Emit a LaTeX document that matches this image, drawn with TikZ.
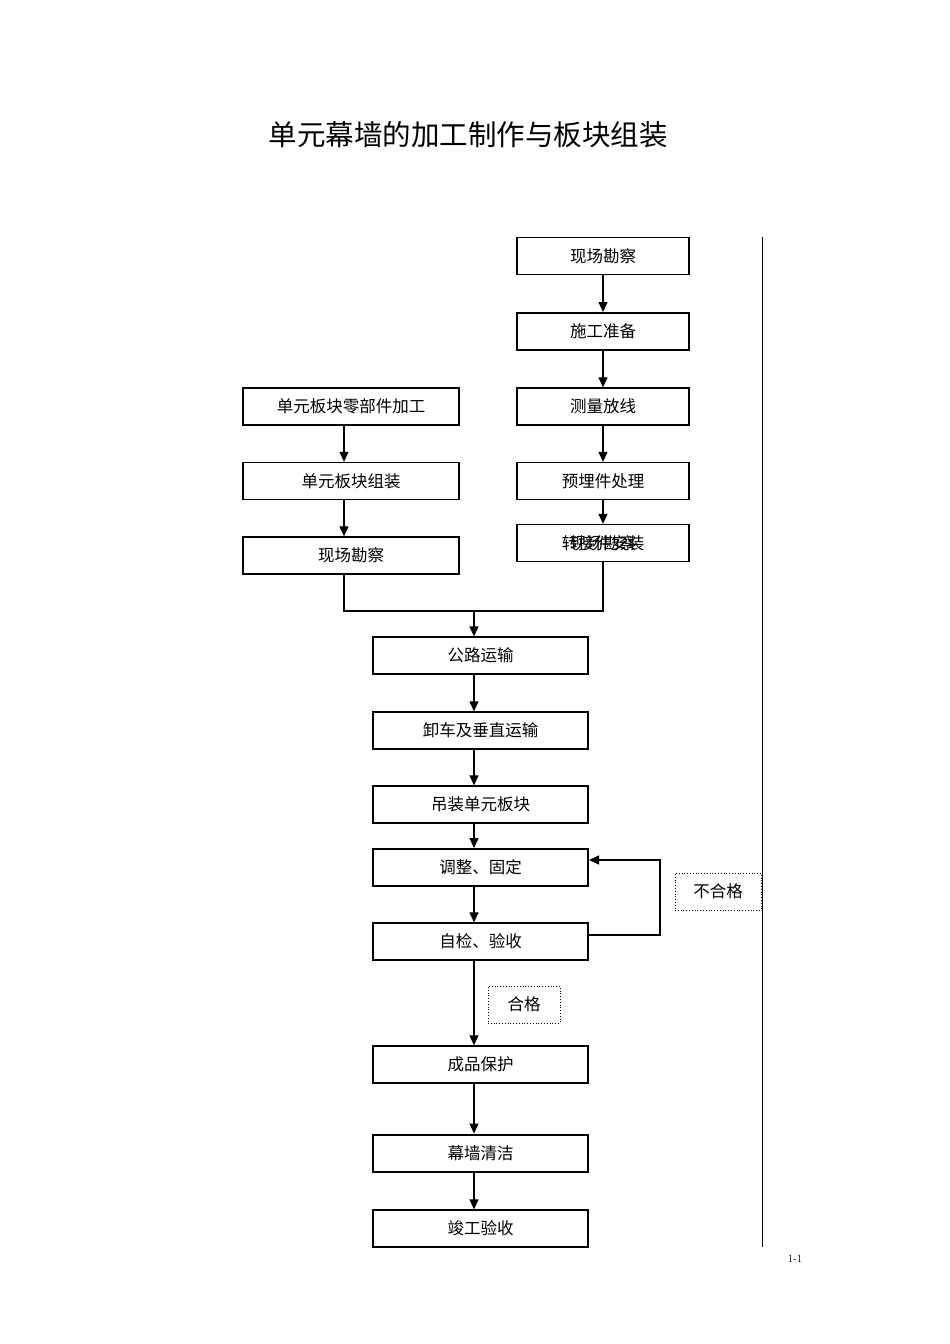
\documentclass[tikz,border=0pt]{standalone}
\usepackage{fontspec}
\newfontfamily\cjk{Noto Sans CJK SC}
\usetikzlibrary{arrows.meta}
\begin{document}
\begin{tikzpicture}[x=1pt,y=-1pt,
  box/.style={draw,line width=1.3pt,minimum height=37pt,inner sep=0pt,font=\cjk\fontsize{16.5}{19}\selectfont},
  rbox/.style={box,minimum width=172pt},
  lbox/.style={box,minimum width=216pt},
  cbox/.style={box,minimum width=215pt},
  thickbox/.style={line width=2pt},
  note/.style={draw,dotted,line width=0.8pt,inner sep=0pt,font=\cjk\fontsize{16.5}{19}\selectfont},
  arr/.style={line width=1.2pt,-{Triangle[length=10pt,width=9pt]}},
  ln/.style={line width=1.5pt}]
\useasboundingbox (0,0) rectangle (950,1344);
\node[font=\cjk\fontsize{28.5}{32}\selectfont] (title) at (468,135) {单元幕墙的加工制作与板块组装};
% right column
\node[rbox] (r1) at (603,256) {现场勘察};
\node[rbox,thickbox] (r2) at (603,331.5) {施工准备};
\node[rbox] (r3) at (603,406.5) {测量放线};
\node[rbox] (r4) at (603,481) {预埋件处理};
\node[rbox] (r5) at (603,543) {};
\node[font=\cjk\fontsize{16.5}{19}\selectfont] (r5a) at (603,543) {转接件安装};
\node[font=\cjk\fontsize{16.5}{19}\selectfont] (r5b) at (603,543) {现场勘察};
% left column
\node[lbox] (l1) at (351,406.5) {单元板块零部件加工};
\node[lbox] (l2) at (351,481) {单元板块组装};
\node[lbox] (l3) at (351,555.5) {现场勘察};
% center column
\node[cbox] (c1) at (480.5,655.5) {公路运输};
\node[cbox] (c2) at (480.5,730.5) {卸车及垂直运输};
\node[cbox] (c3) at (480.5,804.5) {吊装单元板块};
\node[cbox,thickbox] (c4) at (480.5,867.5) {调整、固定};
\node[cbox] (c5) at (480.5,941.5) {自检、验收};
\node[cbox] (c6) at (480.5,1064.5) {成品保护};
\node[cbox,thickbox] (c7) at (480.5,1153) {幕墙清洁};
\node[cbox] (c8) at (480.5,1228.5) {竣工验收};
% notes
\node[note,minimum width=86pt,minimum height=37pt] (ng) at (718,891.5) {不合格};
\node[note,minimum width=72pt,minimum height=37pt] (ok) at (524,1004.5) {合格};
% arrows right
\draw[arr] (r1.south -| 603,0) -- (r2.north -| 603,0);
\draw[arr] (r2.south -| 603,0) -- (r3.north -| 603,0);
\draw[arr] (r3.south -| 603,0) -- (r4.north -| 603,0);
\draw[arr] (r4.south -| 603,0) -- (r5.north -| 603,0);
% arrows left
\draw[arr] (l1.south -| 344,0) -- (l2.north -| 344,0);
\draw[arr] (l2.south -| 344,0) -- (l3.north -| 344,0);
% merge
\coordinate (mL) at (344,611);
\coordinate (mR) at (603,611);
\coordinate (mC) at (474,611);
\draw[ln] (l3.south -| mL) -- (mL) -- (mR) -- (r5.south -| mR);
\draw[arr] (mC) -- (c1.north -| mC);
% center arrows
\draw[arr] (c1.south -| mC) -- (c2.north -| mC);
\draw[arr] (c2.south -| mC) -- (c3.north -| mC);
\draw[arr] (c3.south -| mC) -- (c4.north -| mC);
\draw[arr] (c4.south -| mC) -- (c5.north -| mC);
\draw[arr] (c5.south -| mC) -- (c6.north -| mC);
\draw[arr] (c6.south -| mC) -- (c7.north -| mC);
\draw[arr] (c7.south -| mC) -- (c8.north -| mC);
% feedback loop
\coordinate (fb1) at (660,935);
\coordinate (fb2) at (660,860);
\draw[arr] (c5.east |- fb1) -- (fb1) -- (fb2) -- (c4.east |- fb2);
% right vertical line
\coordinate (v1) at (762,237);
\coordinate (v2) at (762,1247);
\draw[line width=1pt] (v1) -- (v2);
\node[font=\fontsize{11}{13}\selectfont] (pg) at (795,1259) {1-1};
\end{tikzpicture}
\end{document}
